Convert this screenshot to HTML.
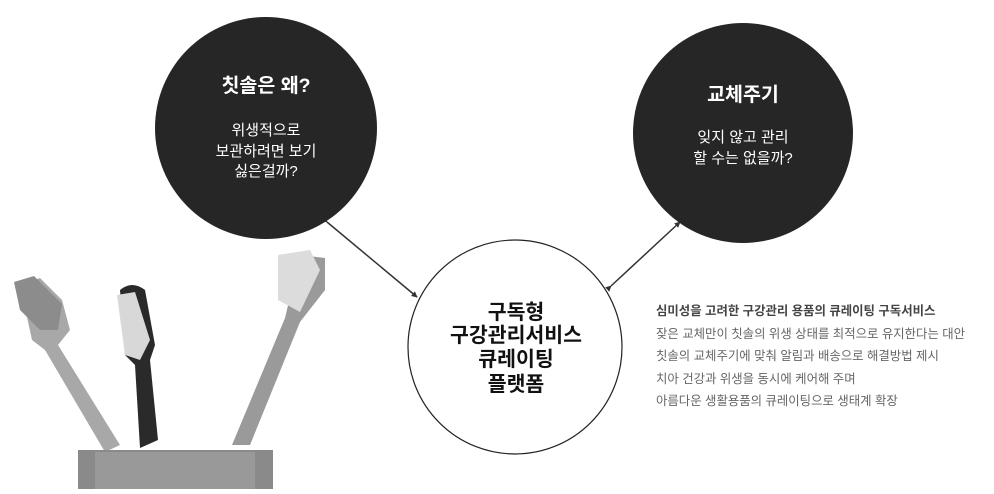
<!DOCTYPE html>
<html><head><meta charset="utf-8"><style>
body{margin:0;background:#fff;width:994px;height:489px;overflow:hidden;font-family:"Liberation Sans","Noto Sans CJK KR",sans-serif}
</style></head><body>
<svg width="994" height="489" viewBox="0 0 994 489" xmlns="http://www.w3.org/2000/svg" font-family="Liberation Sans, Noto Sans CJK KR, sans-serif">
<defs><marker id="a" markerWidth="4" markerHeight="4" refX="3.5" refY="2" orient="auto"><path d="M0,0L4,2L0,4z" fill="#333"/></marker></defs>
<g>
<path d="M20,285 L40,278 L62,300 L70,330 L58,345 L120,445 L105,452 L45,350 L32,340 Z" fill="#a8a8a8"/>
<path d="M14,282 L34,276 L62,304 L58,330 L40,330 L20,310 Z" fill="#8c8c8c"/>
<path d="M120,290 Q132,280 145,290 L155,345 L150,360 L158,440 L140,448 L135,365 L125,355 Z" fill="#2a2a2a"/>
<path d="M117,295 L135,292 L150,340 L140,360 L125,355 Z" fill="#d8d8d8"/>
<path d="M300,255 L325,258 L325,290 L300,322 L250,445 L232,445 L285,318 Z" fill="#9a9a9a"/>
<path d="M278,255 L310,250 L320,270 L300,312 L278,300 Z" fill="#dcdcdc"/>
<rect x="78" y="450" width="195" height="39" fill="#8a8a8a"/>
<rect x="95" y="452" width="160" height="37" fill="#999"/>
</g>
<line x1="327" y1="222" x2="417" y2="297" stroke="#333" stroke-width="1.5" marker-end="url(#a)" marker-start="url(#a)"/>
<line x1="611" y1="286" x2="680" y2="222" stroke="#333" stroke-width="1.5" marker-end="url(#a)" marker-start="url(#a)"/>
<circle cx="266" cy="128" r="111" fill="#262626"/>
<circle cx="743" cy="133" r="110" fill="#262626"/>
<circle cx="515" cy="347" r="107" fill="#fff" stroke="#222" stroke-width="1.2"/>
<g fill="#fff" text-anchor="middle">
<text x="266" y="92" font-size="19.5" font-weight="bold">칫솔은 왜?</text>
<text x="266" y="135" font-size="15">위생적으로</text>
<text x="266" y="156" font-size="15">보관하려면 보기</text>
<text x="266" y="176" font-size="15">싫은걸까?</text>
<text x="743" y="101" font-size="19.5" font-weight="bold">교체주기</text>
<text x="743" y="142" font-size="15">잊지 않고 관리</text>
<text x="743" y="163" font-size="15">할 수는 없을까?</text>
</g>
<g fill="#111" text-anchor="middle" font-size="20.5" font-weight="bold">
<text x="516" y="319">구독형</text>
<text x="516" y="342">구강관리서비스</text>
<text x="516" y="366">큐레이팅</text>
<text x="516" y="391">플랫폼</text>
</g>
<g font-size="12.4" fill="#666">
<text x="656" y="315" font-weight="bold" fill="#444">심미성을 고려한 구강관리 용품의 큐레이팅 구독서비스</text>
<text x="656" y="338">잦은 교체만이 칫솔의 위생 상태를 최적으로 유지한다는 대안</text>
<text x="656" y="360">칫솔의 교체주기에 맞춰 알림과 배송으로 해결방법 제시</text>
<text x="656" y="383">치아 건강과 위생을 동시에 케어해 주며</text>
<text x="656" y="405">아름다운 생활용품의 큐레이팅으로 생태계 확장</text>
</g>
</svg>
</body></html>
